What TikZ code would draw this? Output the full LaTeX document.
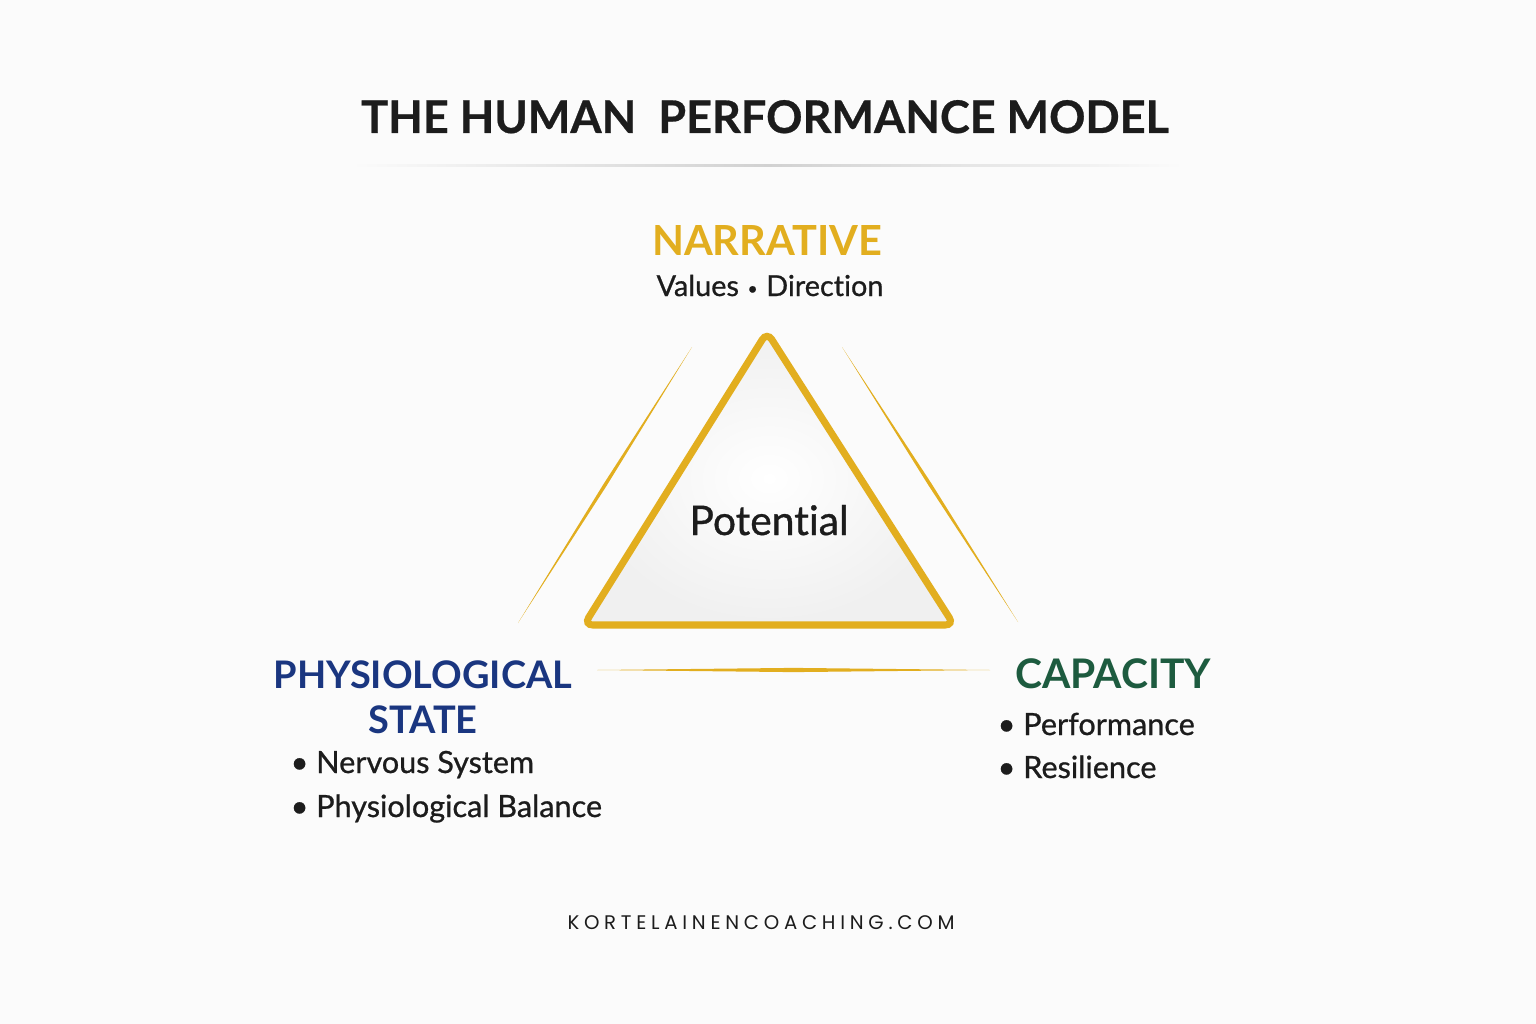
\documentclass[tikz,border=0pt]{standalone}
\usepackage{fontspec}
\setmainfont{Lato}[Ligatures=NoCommon]
\newfontfamily\medfont{Lato}[Ligatures=NoCommon, FakeBold=0.8]
\newfontfamily\blkfont{Lato Bold}[Ligatures=NoCommon, FakeBold=0.6]
\newfontfamily\webfont{Poppins}[LetterSpace=24]
\usetikzlibrary{calc}

\definecolor{gold}{HTML}{E2AE1F}
\definecolor{navy}{HTML}{1A3680}
\definecolor{pine}{HTML}{1D5B3F}
\definecolor{ink}{HTML}{1C1C1C}

\begin{document}
\begin{tikzpicture}[
  x=0.01cm, y=-0.01cm,
  ttl/.style={font=\blkfont\fontsize{12.8}{15}\selectfont, text=ink,
              inner sep=0pt, anchor=base},
  hd/.style={font=\fontsize{10.6}{12.8}\selectfont\bfseries,
             inner sep=0pt, align=center},
  sub/.style={font=\medfont\fontsize{8.2}{10}\selectfont, text=ink,
              inner sep=0pt, anchor=base},
  itm/.style={font=\medfont\fontsize{8.7}{10}\selectfont, text=ink,
              inner sep=0pt, anchor=base west},
  ray/.style={fill=gold},
]
  %% page
  \fill[black!1.5] (0,0) rectangle (1536,1024);
  \useasboundingbox (0,0) rectangle (1536,1024);

  %% title and rule
  \node[ttl] (ttl) at (765,133) {THE HUMAN\ \ PERFORMANCE MODEL};
  \shade[left color=black!1.5, right color=black!1.5, middle color=black!18]
    (350,164.5) rectangle (1185,166);

  %% NARRATIVE — top
  \node[hd, text=gold, anchor=base, font=\fontsize{11.8}{14}\selectfont\bfseries]
    (nar_h) at (767,255) {NARRATIVE};
  \node[sub] (nar_s) at (770,296)
    {Values\hspace{0.3em}\raisebox{0.05em}{\scalebox{0.6}{\textbullet}}\hspace{0.3em}Direction};

  %% triangle
  \shadedraw[draw=gold, line width=2pt, rounded corners=2.5pt,
             inner color=white, outer color=black!6]
    (767,332) -- (954,625) -- (584,625) -- cycle;
  \node[font=\medfont\fontsize{11.6}{13}\selectfont, text=ink, inner sep=0pt,
        anchor=base] (pot) at (769,535) {Potential};

  %% rays
  \coordinate (l1) at (692,347);  \coordinate (l2) at (518,623);
  \coordinate (r1) at (842,347);  \coordinate (r2) at (1018,622);
  \coordinate (b1) at (597,670);  \coordinate (b2) at (990,670);
  \fill[ray] (l1) -- ($(l1)!0.5!(l2)!0.5pt!90:(l2)$) -- (l2)
    -- ($(l1)!0.5!(l2)!0.5pt!-90:(l2)$) -- cycle;
  \fill[ray] (r1) -- ($(r1)!0.5!(r2)!0.5pt!90:(r2)$) -- (r2)
    -- ($(r1)!0.5!(r2)!0.5pt!-90:(r2)$) -- cycle;
  \fill[ray] (b1) -- ($(b1)!0.5!(b2)!0.6pt!90:(b2)$) -- (b2)
    -- ($(b1)!0.5!(b2)!0.6pt!-90:(b2)$) -- cycle;

  %% PHYSIOLOGICAL STATE — left
  \node[hd, text=navy, font=\fontsize{10.8}{12.8}\selectfont\bfseries]
    (phy_h) at (423,697.5) {PHYSIOLOGICAL\\STATE};
  \node[itm] (phy_a) at (290,773) {\textbullet\ Nervous System};
  \node[itm] (phy_b) at (290,817) {\textbullet\ Physiological Balance};

  %% CAPACITY — right
  \node[hd, text=pine, anchor=base, font=\fontsize{11.6}{14}\selectfont\bfseries]
    (cap_h) at (1113,688) {CAPACITY};
  \node[itm] (cap_a) at (997,735) {\textbullet\ Performance};
  \node[itm] (cap_b) at (997,778) {\textbullet\ Resilience};

  %% footer
  \node[font=\webfont\fontsize{5.6}{7}\selectfont, text=ink, inner sep=0pt,
        anchor=base] (web) at (761,929) {KORTELAINENCOACHING.COM};
\end{tikzpicture}
\end{document}
